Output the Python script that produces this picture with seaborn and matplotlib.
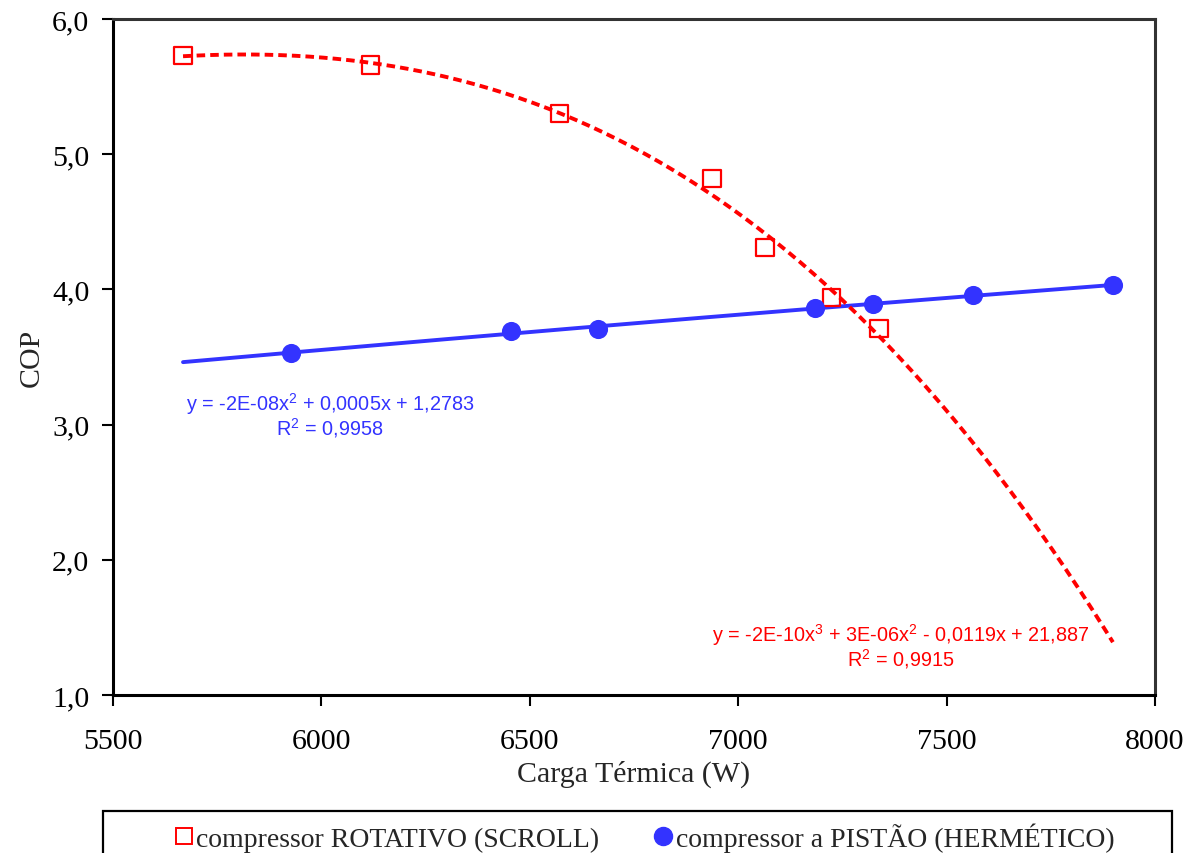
import numpy as np
import pandas as pd
import matplotlib
matplotlib.use("Agg")
import matplotlib.pyplot as plt
from matplotlib.ticker import FuncFormatter, MultipleLocator
from matplotlib.lines import Line2D
from matplotlib.patches import Rectangle
import seaborn as sns

# Measured data: thermal load (W) vs COP
scroll_load = [5668, 6117, 6572, 6937, 7064, 7223, 7338]
scroll_cop = [5.73, 5.66, 5.30, 4.82, 4.31, 3.94, 3.71]
piston_load = [5927, 6455, 6664, 7184, 7323, 7563, 7899]
piston_cop = [3.53, 3.69, 3.71, 3.86, 3.89, 3.96, 4.03]

scroll_label = "compressor ROTATIVO (SCROLL)"
piston_label = "compressor a PISTÃO (HERMÉTICO)"
scroll_eq = "y = -2E-10x$^3$ + 3E-06x$^2$ - 0,0119x + 21,887\nR$^2$ = 0,9915"
piston_eq = "y = -2E-08x$^2$ + 0,0005x + 1,2783\nR$^2$ = 0,9958"

RED = "#FF0000"
BLUE = "#3333FF"

sns.set_style("ticks")
plt.rcParams["font.family"] = ["Liberation Serif", "DejaVu Serif"]
plt.rcParams["mathtext.fontset"] = "custom"
plt.rcParams["mathtext.rm"] = "Liberation Sans"

fig = plt.figure(figsize=(11.97, 8.54), dpi=100)
ax = fig.add_axes([113 / 1197, 1 - 696 / 854, (1155 - 113) / 1197, (696 - 20) / 854])

# Polynomial trend lines over the span of both series
x_min = min(scroll_load + piston_load)
x_max = max(scroll_load + piston_load)
xs = np.linspace(x_min, x_max, 200)
scroll_fit = np.polyval(np.polyfit(scroll_load, scroll_cop, 3), xs)
piston_fit = np.polyval(np.polyfit(piston_load, piston_cop, 2), xs)

sns.lineplot(x=xs, y=piston_fit, ax=ax, color=BLUE, lw=2.8, zorder=2)
sns.lineplot(x=xs, y=scroll_fit, ax=ax, color=RED, lw=2.8, zorder=2,
             dashes=False, linestyle=(0, (2.2, 1.3)))

sns.scatterplot(x=scroll_load, y=scroll_cop, ax=ax, marker="s", s=155,
                facecolor="none", edgecolor=RED, linewidth=1.6, zorder=3)
sns.scatterplot(x=piston_load, y=piston_cop, ax=ax, marker="o", s=190,
                color=BLUE, edgecolor=BLUE, linewidth=0, zorder=4)

ax.set_xlim(5500, 8000)
ax.set_ylim(1.0, 6.0)
ax.xaxis.set_major_locator(MultipleLocator(500))
ax.yaxis.set_major_locator(MultipleLocator(1.0))
ax.yaxis.set_major_formatter(FuncFormatter(lambda v, p: f"{v:.1f}".replace(".", ",")))
ax.tick_params(axis="both", direction="out", length=8, width=1.5, labelsize=21.5,
               colors="black")
ax.tick_params(axis="y", pad=9)
ax.tick_params(axis="x", pad=16)
for side in ["left", "bottom"]:
    ax.spines[side].set_linewidth(2.2)
    ax.spines[side].set_color("black")
for side in ["top", "right"]:
    ax.spines[side].set_visible(True)
    ax.spines[side].set_linewidth(2.2)
    ax.spines[side].set_color("#333333")

ax.set_xlabel("Carga Térmica (W)", fontsize=21.5, labelpad=4)
ax.set_ylabel("COP", fontsize=21.5, labelpad=5)

ax.text(330 / 1197, 1 - 416 / 854, piston_eq, transform=fig.transFigure,
        ha="center", va="center", color=BLUE, fontsize=14.3,
        family="Liberation Sans", linespacing=0.95)
ax.text(901 / 1197, 1 - 647 / 854, scroll_eq, transform=fig.transFigure,
        ha="center", va="center", color=RED, fontsize=14.3,
        family="Liberation Sans", linespacing=0.95)

# Legend box below the plot
fig.patches.append(Rectangle((103 / 1197, -0.05), (1172 - 103) / 1197, 0.05 + (854 - 812) / 854,
                             transform=fig.transFigure, fill=False, edgecolor="black",
                             linewidth=1.6))
handles = [
    Line2D([], [], marker="s", linestyle="none", markersize=12, markerfacecolor="none",
           markeredgecolor=RED, markeredgewidth=1.4, label=scroll_label),
    Line2D([], [], marker="o", linestyle="none", markersize=13, markerfacecolor=BLUE,
           markeredgecolor=BLUE, label=piston_label),
]
fig.legend(handles=handles, loc="center", bbox_to_anchor=(645 / 1197, 1 - 838 / 854),
           ncol=2, frameon=False, fontsize=20, handlelength=0.6, handletextpad=0.15,
           columnspacing=2.0)

fig.savefig("out.png", dpi=100)
